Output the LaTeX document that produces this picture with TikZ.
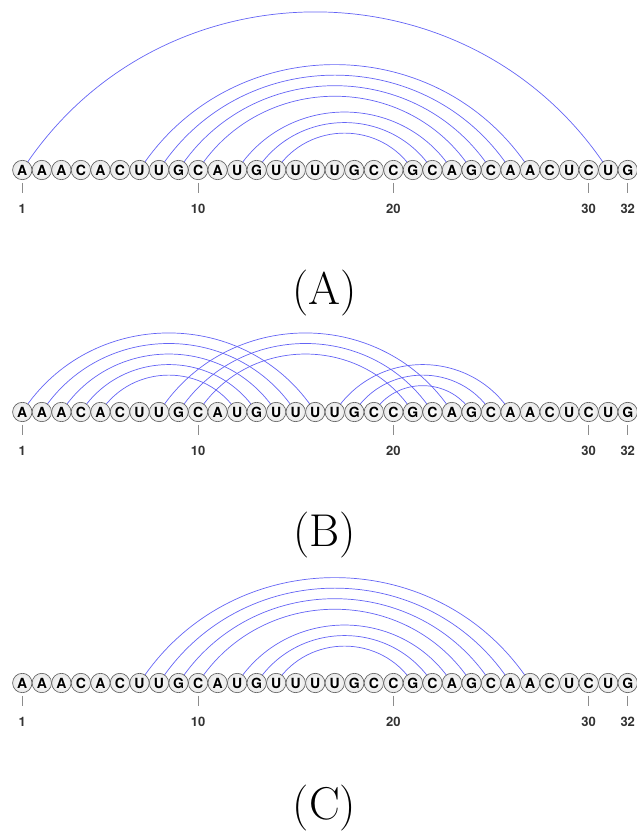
\documentclass[tikz,border=0pt]{standalone}
\usepackage{fontspec}
\newfontfamily\hv{TeX Gyre Heros}
\usetikzlibrary{backgrounds}
\definecolor{arcblue}{RGB}{100,100,245}
\tikzset{
  nt/.style={circle, draw=black!65, line width=0.6pt, inner color=white, outer color=black!9,
    minimum size=19.4pt, inner sep=0pt, font=\hv\bfseries\fontsize{14}{14}\selectfont},
  pairarc/.style={draw=arcblue, line width=0.7pt, bend left=57, looseness=1.1},
  tickmark/.style={draw=black!45, line width=0.6pt},
  numlbl/.style={font=\hv\bfseries\fontsize{13}{13}\selectfont, text=black!80},
  panellbl/.style={font=\fontsize{46}{46}\selectfont, anchor=base}
}
\newcommand\seqrow[2]{%
  \foreach \ch [count=\i] in {A,A,A,C,A,C,U,U,G,C,A,U,G,U,U,U,U,G,C,C,G,C,A,G,C,A,A,C,U,C,U,G}
    \node[nt] (#1\i) at ({22.3+(\i-1)*19.53},#2) {\ch};
  \foreach \k in {1,10,20,30,32} {
    \coordinate (#1ta\k) at ([yshift=-13pt]#1\k.center);
    \coordinate (#1tb\k) at ([yshift=-23pt]#1\k.center);
    \draw[tickmark] (#1ta\k) -- (#1tb\k);
    \node[numlbl] (#1n\k) at ([yshift=-38.5pt]#1\k.center) {\k};
  }
}
\begin{document}
\begin{tikzpicture}[x=1pt,y=1pt]
\useasboundingbox (0,0) rectangle (637,831);
% Row A
\seqrow{a}{661}
\begin{scope}[on background layer]
  \foreach \p/\q in {1/31,7/27,8/26,9/25,10/24,12/23,13/22,14/21}
    \draw[pairarc] (a\p.center) to (a\q.center);
\end{scope}
\node[panellbl] (la) at (324.5,526) {(A)};
% Row B
\seqrow{b}{419}
\begin{scope}[on background layer]
  \foreach \p/\q in {1/16,2/15,3/14,4/13,5/12,8/23,9/22,10/21,17/26,18/25,19/24}
    \draw[pairarc] (b\p.center) to (b\q.center);
\end{scope}
\node[panellbl] (lb) at (324.5,284) {(B)};
% Row C
\seqrow{c}{148}
\begin{scope}[on background layer]
  \foreach \p/\q in {7/27,8/26,9/25,10/24,12/23,13/22,14/21}
    \draw[pairarc] (c\p.center) to (c\q.center);
\end{scope}
\node[panellbl] (lc) at (324.5,11) {(C)};
\end{tikzpicture}
\end{document}
